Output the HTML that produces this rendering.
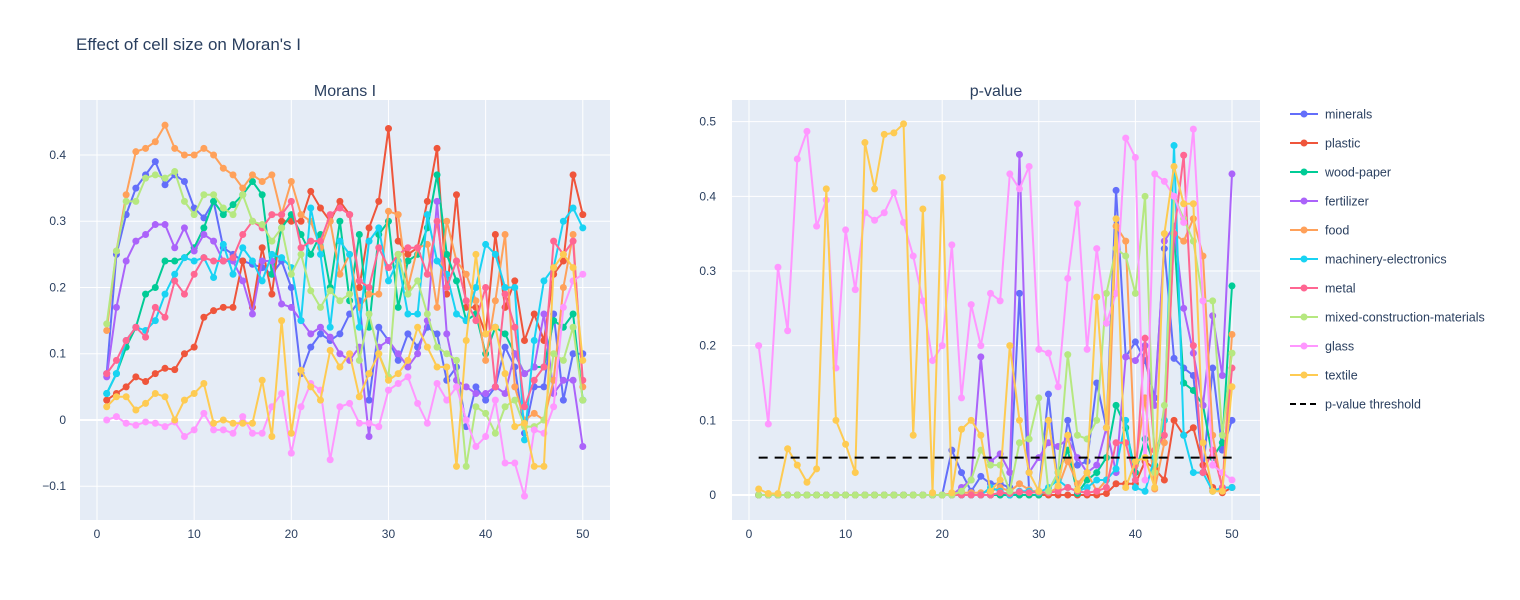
<!DOCTYPE html>
<html><head><meta charset="utf-8"><style>
html,body{margin:0;padding:0;background:#fff;}
svg{display:block;font-family:"Liberation Sans",Arial,sans-serif;}
</style></head><body>
<svg id="chart" width="1520" height="600" xmlns="http://www.w3.org/2000/svg">
<rect width="1520" height="600" fill="#fff"/>
<text x="76" y="50" font-size="17" fill="#2a3f5f">Effect of cell size on Moran's I</text>
<g id="left"></g><g id="right"></g><g id="legend"></g>
</svg>
<script>
const names=["minerals","plastic","wood-paper","fertilizer","food","machinery-electronics","metal","mixed-construction-materials","glass","textile"];
const colors=["#636efa","#EF553B","#00cc96","#ab63fa","#FFA15A","#19d3f3","#FF6692","#B6E880","#FF97FF","#FECB52"];
const cellSizes=[];for(let i=1;i<=50;i++)cellSizes.push(i);
const moranMinerals=[0.07,0.25,0.31,0.35,0.37,0.39,0.355,0.37,0.36,0.32,0.305,0.33,0.26,0.25,0.24,0.235,0.23,0.22,0.24,0.2,0.07,0.11,0.13,0.12,0.13,0.16,0.18,0.03,0.14,0.12,0.09,0.13,0.11,0.14,0.13,0.06,0.08,-0.01,0.05,0.03,0.05,0.11,0.08,-0.02,0.05,0.05,0.16,0.03,0.1,0.1];
const moranPlastic=[0.03,0.04,0.05,0.065,0.058,0.07,0.078,0.076,0.1,0.11,0.155,0.165,0.17,0.17,0.24,0.17,0.26,0.19,0.3,0.3,0.3,0.345,0.32,0.3,0.33,0.31,0.2,0.29,0.33,0.44,0.27,0.25,0.26,0.33,0.41,0.19,0.34,0.17,0.17,0.13,0.28,0.17,0.21,0.12,0.16,0.12,0.22,0.24,0.37,0.31];
const moranWood=[0.04,0.07,0.11,0.14,0.19,0.2,0.24,0.24,0.245,0.26,0.29,0.33,0.31,0.325,0.34,0.36,0.34,0.22,0.29,0.31,0.28,0.25,0.28,0.2,0.3,0.18,0.28,0.14,0.28,0.3,0.17,0.24,0.25,0.29,0.37,0.25,0.21,0.15,0.16,0.1,0.14,0.13,0.1,0.07,0.08,0.08,0.15,0.14,0.16,0.03];
const moranFert=[0.065,0.17,0.24,0.27,0.28,0.295,0.295,0.26,0.29,0.255,0.28,0.27,0.24,0.24,0.21,0.16,0.24,0.24,0.175,0.17,0.15,0.13,0.14,0.125,0.1,0.09,0.11,-0.025,0.11,0.12,0.1,0.08,0.1,0.15,0.33,0.13,0.06,0.05,0.04,0.04,0.05,0.04,0.1,0.07,0.08,0.16,0.04,0.06,0.06,-0.04];
const moranFood=[0.135,0.255,0.34,0.405,0.41,0.42,0.445,0.41,0.4,0.4,0.41,0.4,0.38,0.37,0.35,0.37,0.36,0.37,0.31,0.36,0.31,0.3,0.26,0.3,0.22,0.25,0.17,0.19,0.19,0.315,0.31,0.2,0.26,0.265,0.17,0.3,0.24,0.22,0.18,0.09,0.18,0.28,0.05,0,0.01,0,0.06,0.2,0.28,0.05];
const moranMach=[0.04,0.07,0.12,0.14,0.135,0.15,0.19,0.22,0.245,0.24,0.245,0.215,0.265,0.22,0.26,0.24,0.21,0.25,0.245,0.23,0.15,0.32,0.25,0.14,0.27,0.25,0.14,0.27,0.29,0.21,0.24,0.16,0.16,0.31,0.24,0.22,0.16,0.15,0.2,0.265,0.25,0.2,0.2,-0.03,0.12,0.21,0.23,0.3,0.32,0.29];
const moranMetal=[0.07,0.09,0.12,0.14,0.125,0.17,0.155,0.21,0.19,0.22,0.245,0.24,0.24,0.245,0.28,0.3,0.29,0.31,0.31,0.33,0.26,0.27,0.27,0.31,0.32,0.31,0.21,0.2,0.26,0.23,0.25,0.26,0.26,0.22,0.3,0.2,0.24,0.18,0.15,0.2,0.05,0.19,0.14,0.02,0.06,0.08,0.27,0.25,0.27,0.06];
const moranMixed=[0.145,0.255,0.33,0.33,0.365,0.37,0.365,0.375,0.33,0.31,0.34,0.34,0.32,0.31,0.34,0.3,0.295,0.27,0.29,0.22,0.25,0.195,0.17,0.195,0.18,0.19,0.09,0.16,0.1,0.065,0.25,0.19,0.21,0.16,0.11,0.1,0.09,-0.07,0.02,0.01,-0.02,0.02,0.03,-0.01,-0.01,0,0.1,0.09,0.14,0.03];
const moranGlass=[0,0.005,-0.005,-0.008,-0.003,-0.005,-0.01,-0.003,-0.025,-0.015,0.01,-0.015,-0.015,-0.02,0.005,-0.02,-0.02,0.02,0.04,-0.05,0.02,0.055,0.045,-0.06,0.02,0.025,-0.005,-0.005,-0.01,0.045,0.055,0.065,0.025,-0.005,0.055,0.03,0.05,0,-0.04,-0.025,0.03,-0.065,-0.065,-0.115,-0.015,-0.02,0.02,0.17,0.21,0.22];
const moranTextile=[0.02,0.035,0.035,0.015,0.025,0.04,0.035,0,0.03,0.04,0.055,-0.005,0,-0.005,-0.005,-0.005,0.06,-0.025,0.15,-0.02,0.075,0.05,0.03,0.105,0.08,0.1,0.035,0.07,0.1,0.06,0.07,0.09,0.14,0.11,0.08,0.08,-0.07,0.12,0.25,0.13,0.14,0.07,-0.01,-0.005,-0.07,-0.07,0.23,0.25,0.23,0.09];
const Z20=[0,0,0,0,0,0,0,0,0,0,0,0,0,0,0,0,0,0,0,0];
const pMinerals=Z20.concat([0.06,0.03,0.005,0.025,0.015,0.015,0.01,0.27,0.005,0.005,0.135,0.01,0.1,0.04,0.045,0.15,0.09,0.408,0.185,0.205,0.18,0.13,0.33,0.183,0.17,0.16,0.03,0.17,0.06,0.1]);
const pPlastic=Z20.concat([0,0,0,0,0,0,0,0,0,0,0,0,0,0,0,0,0.002,0.015,0.015,0.015,0.045,0.035,0.02,0.1,0.08,0.09,0.04,0.01,0.003,0.01]);
const pWood=Z20.concat([0,0,0,0,0,0,0,0,0,0,0.005,0.03,0.06,0.002,0.02,0.03,0.05,0.12,0.09,0.03,0.075,0.04,0.1,0.35,0.15,0.14,0.12,0.05,0.07,0.28]);
const pFert=Z20.concat([0,0.01,0.02,0.185,0.045,0.055,0.03,0.456,0.03,0.05,0.07,0.065,0.075,0.05,0.03,0.04,0.09,0.03,0.185,0.18,0.2,0.12,0.34,0.36,0.25,0.19,0.12,0.24,0.16,0.43]);
const pFood=Z20.concat([0.002,0.003,0.003,0.003,0.005,0.01,0.005,0.015,0.007,0.003,0.003,0.01,0.045,0.015,0.03,0.005,0.02,0.36,0.34,0.04,0.13,0.008,0.07,0.35,0.34,0.37,0.32,0.08,0.008,0.215]);
const pMach=Z20.concat([0,0,0,0,0.01,0.005,0,0.005,0.005,0.003,0.01,0.02,0.01,0.005,0.01,0.02,0.02,0.035,0.1,0.01,0.005,0.05,0.1,0.468,0.08,0.03,0.03,0.005,0.01,0.01]);
const pMetal=Z20.concat([0,0,0,0,0,0.003,0.002,0.004,0.003,0.004,0.003,0.005,0.01,0.005,0.003,0.005,0.01,0.07,0.07,0.02,0.21,0.06,0.08,0.35,0.455,0.2,0.03,0.06,0.01,0.17]);
const pMixed=Z20.concat([0,0.005,0.02,0.06,0.04,0.04,0.005,0.07,0.075,0.13,0.005,0.03,0.188,0.08,0.075,0.1,0.27,0.33,0.32,0.27,0.4,0.03,0.12,0.4,0.37,0.34,0.26,0.26,0.08,0.19]);
const pGlass=[0.2,0.095,0.305,0.22,0.45,0.487,0.36,0.395,0.17,0.355,0.275,0.378,0.368,0.378,0.405,0.365,0.32,0.26,0.18,0.2,0.335,0.13,0.255,0.2,0.27,0.26,0.43,0.41,0.44,0.195,0.19,0.145,0.29,0.39,0.195,0.33,0.23,0.27,0.478,0.452,0.02,0.43,0.42,0.4,0.365,0.49,0.26,0.04,0.03,0.02];
const pTextile=[0.008,0.002,0.002,0.062,0.04,0.017,0.035,0.41,0.1,0.068,0.03,0.472,0.41,0.483,0.485,0.497,0.08,0.383,0.003,0.425,0.003,0.088,0.1,0.08,0.005,0.02,0.2,0.1,0.03,0.005,0.1,0.012,0.08,0.007,0.03,0.265,0.09,0.37,0.01,0.045,0.05,0.01,0.35,0.44,0.39,0.39,0.07,0.005,0.005,0.145];
const pThreshold=[0.05];
const moranSeries=[moranMinerals,moranPlastic,moranWood,moranFert,moranFood,moranMach,moranMetal,moranMixed,moranGlass,moranTextile];
const pSeries=[pMinerals,pPlastic,pWood,pFert,pFood,pMach,pMetal,pMixed,pGlass,pTextile];
const leftYTicks=[-0.1,0,0.1,0.2,0.3,0.4];
const rightYTicks=[0,0.1,0.2,0.3,0.4,0.5];
const xTicks=[0,10,20,30,40,50];
const NS="http://www.w3.org/2000/svg";
function mk(t,a,p){const e=document.createElementNS(NS,t);for(const k in a)e.setAttribute(k,a[k]);p.appendChild(e);return e;}
function panel(g,px0,px1,py0,py1,xmin,xmax,ymin,ymax,yt,series,title,fmt,threshold,tag){
  const sx=v=>px0+(v-xmin)/(xmax-xmin)*(px1-px0);
  const sy=v=>py1-(v-ymin)/(ymax-ymin)*(py1-py0);
  const bg=mk('rect',{x:px0,y:py0,width:px1-px0,height:py1-py0,fill:'#e5ecf6'},g);
  
  
  xTicks.forEach(t=>{mk('line',{x1:sx(t),x2:sx(t),y1:py0,y2:py1,stroke:'#fff','stroke-width':1},g);
    const tx=mk('text',{x:sx(t),y:py1+18,'font-size':12,fill:'#2a3f5f','text-anchor':'middle'},g);tx.textContent=t;
    
    });
  yt.forEach(t=>{mk('line',{x1:px0,x2:px1,y1:sy(t),y2:sy(t),stroke:'#fff','stroke-width':t===0?2:1},g);
    const tx=mk('text',{x:px0-4-(tag==='left'?10:12),y:sy(t)+4,'font-size':12,fill:'#2a3f5f','text-anchor':'end'},g);tx.textContent=fmt(t);
    
    });
  const tt=mk('text',{x:(px0+px1)/2,y:py0-4,'font-size':16,fill:'#2a3f5f','text-anchor':'middle'},g);tt.textContent=title;
  
  
  series.forEach((s,i)=>{
    const pts=s.map((v,j)=>sx(cellSizes[j])+','+sy(v)).join(' ');
    const pl=mk('polyline',{points:pts,fill:'none',stroke:colors[i],'stroke-width':2},g);
    
    
    s.forEach((v,j)=>{const c=mk('circle',{cx:sx(cellSizes[j]),cy:sy(v),r:3.5,fill:colors[i]},g);
      
      });
  });
  if(threshold){const l=mk('line',{x1:sx(cellSizes[0]),x2:sx(cellSizes[49]),y1:sy(threshold[0]),y2:sy(threshold[0]),stroke:'#000','stroke-width':2,'stroke-dasharray':'9,7'},g);
    
    }
}
panel(document.getElementById('left'),80,610,100,520,-1.75,52.8,-0.151,0.483,leftYTicks,moranSeries,'Morans I',t=>t===0?'0':(t<0?'−'+(-t).toFixed(1):t.toFixed(1)),null,'left');
panel(document.getElementById('right'),732,1260,100,520,-1.76,52.9,-0.0335,0.529,rightYTicks,pSeries,'p-value',t=>t===0?'0':t.toFixed(1),pThreshold,'right');
const lg=document.getElementById('legend');
names.concat(['p-value threshold']).forEach((n,i)=>{
  const y=114+29*i;
  const item=mk('g',{},lg);
  
  
  if(i<10){mk('line',{x1:1290,x2:1318,y1:y,y2:y,stroke:colors[i],'stroke-width':2},item);mk('circle',{cx:1304,cy:y,r:3.5,fill:colors[i]},item);}
  else mk('line',{x1:1290,x2:1318,y1:y,y2:y,stroke:'#000','stroke-width':2,'stroke-dasharray':'6,4'},item);
  const t=mk('text',{x:1325,y:y+4.5,'font-size':12.5,fill:'#2a3f5f'},item);t.textContent=n;
});
</script>
</body></html>
